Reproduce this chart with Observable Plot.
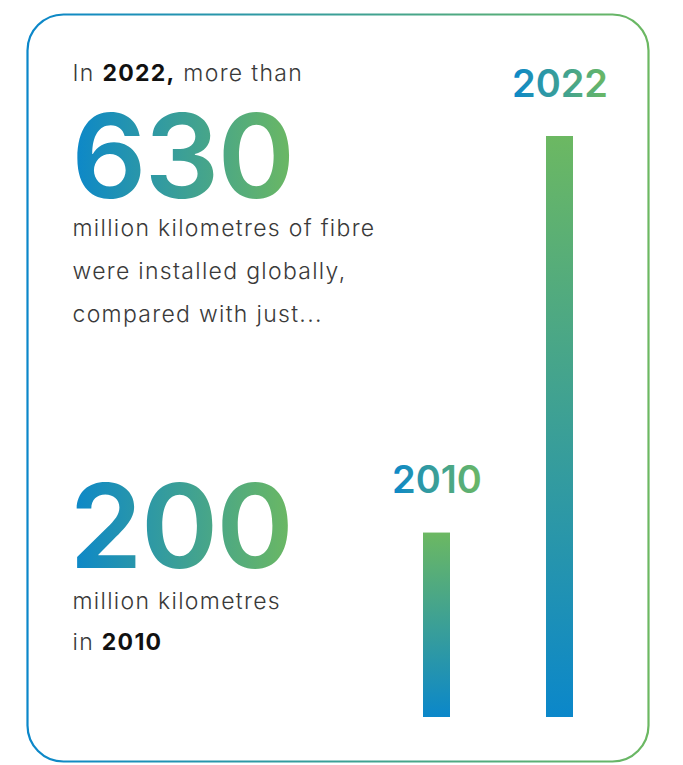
<!DOCTYPE html>
<html>
<head>
<meta charset="utf-8">
<script src="https://cdn.jsdelivr.net/npm/d3@7"></script>
<script src="https://cdn.jsdelivr.net/npm/@observablehq/plot@0.6"></script>
<style>
  html, body { margin: 0; padding: 0; background: #fff; }
  #chart { width: 683px; height: 765px; }
  #chart g[font-size="23"] { letter-spacing: 1.3px; }
  #chart g[font-size="117"] { letter-spacing: -1.5px; }
</style>
</head>
<body>
<div id="chart"></div>
<script>
// ---- data ----
const years = ["2010", "2022"];
const fibreMillionKm = [200, 630];
const bigNumbers = ["630", "200"];
const introLine = "In 2022, more than";
const paragraph2022 = ["million kilometres of fibre", "were installed globally,", "compared with just..."];
const paragraph2010 = ["million kilometres", "in 2010"];

const blue = "#0b87ca";
const green = "#6cb862";

const data = years.map((year, i) => ({year, value: fibreMillionKm[i]}));

const bodyFont = "Inter, 'Open Sans', sans-serif";

const chart = Plot.plot({
  width: 683,
  height: 765,
  marginLeft: 27,
  marginRight: 35,
  marginTop: 14,
  marginBottom: 4,
  style: {fontFamily: bodyFont, background: "#fff", overflow: "visible"},
  x: {type: "band", domain: years, range: [422, 573], paddingInner: 0.782, paddingOuter: 0, axis: null},
  y: {domain: [0, 630], range: [717, 136], axis: null},
  marks: [
    Plot.frame({stroke: "url(#borderGrad)", strokeWidth: 2.2, rx: 36, fill: "none"}),
    Plot.barY(data, {x: "year", y: "value", fill: "url(#barGrad)"}),
    Plot.text(data, {x: "year", y: "value", text: "year", dy: -40, lineAnchor: "bottom",
      fill: "url(#textGrad)", fontSize: 38, fontWeight: 600}),
    // left-hand annotation text
    Plot.text([introLine], {frameAnchor: "top-left", dx: 45, dy: 66, textAnchor: "start", lineAnchor: "bottom",
      fill: "#3a3a3a", fontSize: 23, fontWeight: 300}),
    Plot.text([bigNumbers[0]], {frameAnchor: "top-left", dx: 44, dy: 183, textAnchor: "start", lineAnchor: "bottom",
      fill: "url(#textGrad)", fontSize: 117, fontWeight: 600}),
    Plot.text([paragraph2022.join("\n")], {frameAnchor: "top-left", dx: 45, dy: 307, textAnchor: "start", lineAnchor: "bottom",
      lineHeight: 43 / 23, fill: "#3a3a3a", fontSize: 23, fontWeight: 300}),
    Plot.text([bigNumbers[1]], {frameAnchor: "top-left", dx: 42, dy: 553, textAnchor: "start", lineAnchor: "bottom",
      fill: "url(#textGrad)", fontSize: 117, fontWeight: 600}),
    Plot.text([paragraph2010.join("\n")], {frameAnchor: "top-left", dx: 45, dy: 635, textAnchor: "start", lineAnchor: "bottom",
      lineHeight: 41 / 23, fill: "#3a3a3a", fontSize: 23, fontWeight: 300})
  ]
});

// gradient definitions
const svg = d3.select(chart.tagName.toLowerCase() === "svg" ? chart : chart.querySelector("svg"));
const defs = svg.insert("defs", ":first-child");
function grad(id, x1, y1, x2, y2) {
  const g = defs.append("linearGradient").attr("id", id)
    .attr("x1", x1).attr("y1", y1).attr("x2", x2).attr("y2", y2);
  g.append("stop").attr("offset", "0%").attr("stop-color", blue);
  g.append("stop").attr("offset", "100%").attr("stop-color", green);
}
grad("borderGrad", 0, 0, 1, 0);
grad("textGrad", 0, 0, 1, 0);
grad("barGrad", 0, 1, 0, 0);

// bold emphasis inside annotation lines
function emphasize(full, boldPart) {
  svg.selectAll("text, tspan").each(function() {
    const el = this;
    if (el.childNodes.length === 1 && el.firstChild.nodeType === 3 && el.textContent === full) {
      const i = full.indexOf(boldPart);
      const before = full.slice(0, i), after = full.slice(i + boldPart.length);
      el.textContent = "";
      const ns = "http://www.w3.org/2000/svg";
      if (before) el.appendChild(document.createTextNode(before));
      const b = document.createElementNS(ns, "tspan");
      b.setAttribute("font-weight", 700);
      b.setAttribute("fill", "#111");
      b.textContent = boldPart;
      el.appendChild(b);
      if (after) el.appendChild(document.createTextNode(after));
    }
  });
}
emphasize(introLine, "2022,");
emphasize(paragraph2010[1], "2010");

document.getElementById("chart").appendChild(chart);
</script>
</body>
</html>
